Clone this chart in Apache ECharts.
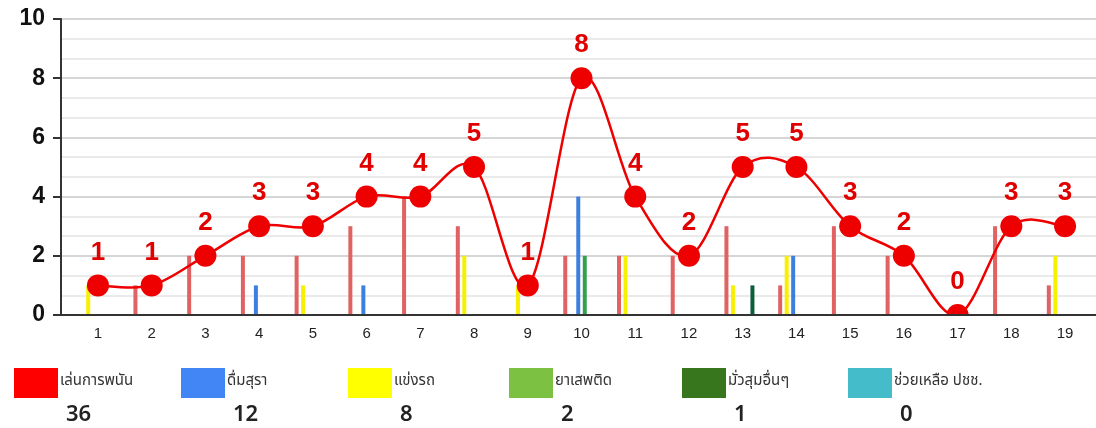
<!DOCTYPE html>
<html>
<head>
<meta charset="utf-8">
<script src="https://cdn.jsdelivr.net/npm/echarts@6/dist/echarts.min.js"></script>
<style>
  html, body { margin: 0; padding: 0; background: #ffffff; }
  #chart { width: 1096px; height: 428px; }
</style>
</head>
<body>
<div id="chart"></div>
<script>
// ---- data ----
const days = [1,2,3,4,5,6,7,8,9,10,11,12,13,14,15,16,17,18,19];
const dailyTotal = [1,1,2,3,3,4,4,5,1,8,4,2,5,5,3,2,0,3,3];
// bar series, in the order they sit inside each group
const gambling  = [0,1,2,2,2,3,4,3,0,2,2,2,3,1,3,2,0,3,1];
const drinking  = [1,0,0,0,1,0,0,2,1,0,2,0,1,2,0,0,0,0,2];
const racing    = [0,0,0,1,0,1,0,0,0,4,0,0,0,2,0,0,0,0,0];
const drugs     = [0,0,0,0,0,0,0,0,0,2,0,0,0,0,0,0,0,0,0];
const gathering = [0,0,0,0,0,0,0,0,0,0,0,0,1,0,0,0,0,0,0];
const helping   = [0,0,0,0,0,0,0,0,0,0,0,0,0,0,0,0,0,0,0];
const yTicks = [0,2,4,6,8,10];
// legend
const legendNames  = ['เล่นการพนัน','ดื่มสุรา','แข่งรถ','ยาเสพติด','มั่วสุมอื่นๆ','ช่วยเหลือ ปชช.'];
const legendTotals = [36,12,8,2,1,0];

// ---- styles ----
const legendColors = ['#ff0000','#4285f4','#ffff00','#7cc142','#38761d','#45bcc9'];
const barColors = ['#e06262','#f7f000','#3d7fe0','#34a04a','#0d5e3a','#45bcc9'];
const barSeriesData = [gambling, drinking, racing, drugs, gathering, helping];
const LINE_RED = '#ee0000';

const chart = echarts.init(document.getElementById('chart'));

const pairs = arr => days.map((d, i) => [d, arr[i]]);

const series = barSeriesData.map((arr, k) => ({
  type: 'bar',
  name: legendNames[k],
  data: pairs(arr),
  barWidth: 4,
  barGap: '62.5%',
  itemStyle: { color: barColors[k] },
  z: 2,
  animation: false
}));

// Catmull-Rom spline through the daily totals, with markers and labels
series.push({
  type: 'custom',
  name: 'รวม',
  data: pairs(dailyTotal),
  clip: true,
  z: 5,
  animation: false,
  renderItem: function (params, api) {
    const n = days.length;
    const i = params.dataIndex;
    const pt = j => {
      const k = Math.max(0, Math.min(n - 1, j));
      return api.coord([days[k], dailyTotal[k]]);
    };
    const children = [];
    const p1 = pt(i);
    if (i < n - 1) {
      const p0 = pt(i - 1), p2 = pt(i + 1), p3 = pt(i + 2);
      children.push({
        type: 'bezierCurve',
        shape: {
          x1: p1[0], y1: p1[1],
          cpx1: p1[0] + (p2[0] - p0[0]) / 6,
          cpy1: p1[1] + (p2[1] - p0[1]) / 6,
          cpx2: p2[0] - (p3[0] - p1[0]) / 6,
          cpy2: p2[1] - (p3[1] - p1[1]) / 6,
          x2: p2[0], y2: p2[1]
        },
        style: { stroke: LINE_RED, lineWidth: 2.5, fill: null }
      });
    }
    children.push({
      type: 'circle',
      shape: { cx: p1[0], cy: p1[1], r: 11 },
      style: { fill: LINE_RED }
    });
    children.push({
      type: 'text',
      x: p1[0], y: p1[1] - 33,
      style: {
        text: String(dailyTotal[i]),
        fill: '#e00000',
        fontSize: 26,
        fontWeight: 'bold',
        fontFamily: 'Liberation Sans, Arial, sans-serif',
        align: 'center',
        verticalAlign: 'middle'
      }
    });
    return { type: 'group', children: children };
  }
});

const graphics = [];
const legendX = [14, 181, 348, 509, 682, 848];
legendNames.forEach((name, i) => {
  const x = legendX[i];
  graphics.push({
    type: 'rect',
    left: x, top: 368,
    shape: { width: 44, height: 30 },
    style: { fill: legendColors[i] }
  });
  graphics.push({
    type: 'text',
    left: x + 46, top: 374,
    style: {
      text: name,
      fill: '#333333',
      fontSize: 15,
      fontFamily: 'Noto Sans Thai, Noto Sans, sans-serif'
    }
  });
  graphics.push({
    type: 'text',
    left: x + 52, top: 404,
    style: {
      text: String(legendTotals[i]),
      fill: '#222222',
      fontSize: 22,
      fontWeight: 600,
      fontFamily: 'Noto Sans, sans-serif'
    }
  });
});

chart.setOption({
  backgroundColor: '#ffffff',
  animation: false,
  grid: { left: 61, right: 0, top: 19, bottom: 113, containLabel: false },
  xAxis: {
    type: 'value',
    min: 0.312,
    max: 19.576,
    axisLine: { show: true, onZero: false, lineStyle: { color: '#333333', width: 2 } },
    axisTick: { show: false },
    splitLine: { show: false },
    axisLabel: {
      customValues: days,
      margin: 11,
      color: '#222222',
      fontSize: 15,
      fontFamily: 'Liberation Sans, Arial, sans-serif'
    },
    z: 6
  },
  yAxis: {
    type: 'value',
    min: 0,
    max: 10,
    interval: 2,
    axisLine: { show: true, lineStyle: { color: '#333333', width: 2 } },
    axisTick: { show: true, length: 8, lineStyle: { color: '#333333', width: 2 } },
    axisLabel: {
      margin: 16,
      color: '#111111',
      fontSize: 23,
      fontWeight: 'bold',
      fontFamily: 'Liberation Sans, Arial, sans-serif'
    },
    splitLine: { show: true, lineStyle: { color: '#c8c8c8', width: 1.6 } },
    minorTick: { show: false, splitNumber: 3 },
    minorSplitLine: { show: true, lineStyle: { color: '#e3e3e3', width: 1.6 } }
  },
  graphic: graphics,
  series: series
});
</script>
</body>
</html>
